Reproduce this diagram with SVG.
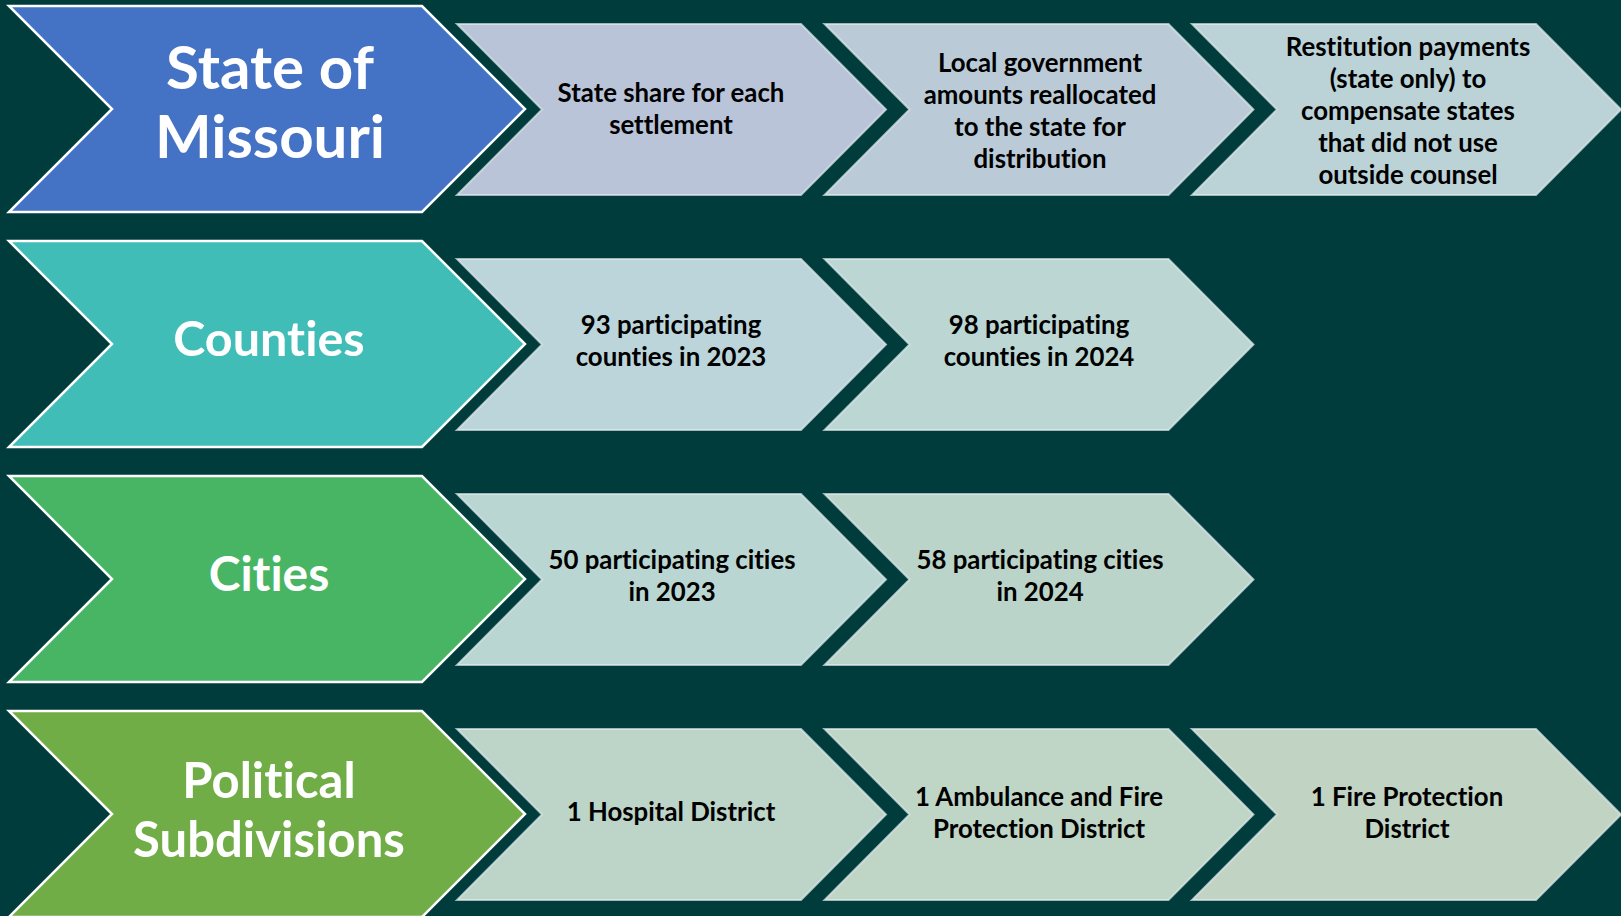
<svg xmlns="http://www.w3.org/2000/svg" width="1621" height="916" viewBox="0 0 1621 916">
<defs>
<style>
.big{stroke:#ffffff;stroke-width:2.5;stroke-linejoin:miter}
.sm{stroke:#e2ebee;stroke-opacity:0.7;stroke-width:2}
text{font-variant-ligatures:none;font-feature-settings:"liga" 0,"dlig" 0}
.tb{font-family:Lato,"Open Sans",sans-serif;font-weight:700;fill:#ffffff;text-anchor:middle}
.ts{font-family:Lato,"Open Sans",sans-serif;font-weight:700;font-size:25.8px;fill:#000000;text-anchor:middle}
</style>
<path id="bigc" d="M9,6 H422 L525,109 L422,212 H9 L112,109 Z"/>
<path id="smc" d="M457,24 H801 L886,109.5 L801,195 H457 L542,109.5 Z"/>
</defs>
<rect width="1621" height="916" fill="#003c3c"/>
<g id="connectors"></g>

<g id="row1">
<g id="state"><use href="#bigc" class="big" fill="#4472c4"/>
<text class="tb" font-size="60" x="270" y="89">State of</text>
<text class="tb" font-size="60" x="270" y="158">Missouri</text></g>
<g id="r1c1"><use href="#smc" class="sm" fill="#b9c4d8"/>
<text class="ts" x="671" y="102">State share for each</text>
<text class="ts" x="671" y="134">settlement</text></g>
<g id="r1c2"><use href="#smc" class="sm" fill="#bacbd7" transform="translate(367.5,0)"/>
<text class="ts" x="1040" y="72">Local government</text>
<text class="ts" x="1040" y="104">amounts reallocated</text>
<text class="ts" x="1040" y="136">to the state for</text>
<text class="ts" x="1040" y="168">distribution</text></g>
<g id="r1c3"><use href="#smc" class="sm" fill="#bbd2d7" transform="translate(735,0)"/>
<text class="ts" x="1408" y="56">Restitution payments</text>
<text class="ts" x="1408" y="88">(state only) to</text>
<text class="ts" x="1408" y="120">compensate states</text>
<text class="ts" x="1408" y="152">that did not use</text>
<text class="ts" x="1408" y="184">outside counsel</text></g>
</g>

<g id="row2">
<g id="counties"><use href="#bigc" class="big" fill="#41bdb8" transform="translate(0,235)"/>
<text class="tb" font-size="48.5" x="269" y="356">Counties</text></g>
<g id="r2c1"><use href="#smc" class="sm" fill="#bcd5da" transform="translate(0,235)"/>
<text class="ts" x="671" y="334">93 participating</text>
<text class="ts" x="671" y="366">counties in 2023</text></g>
<g id="r2c2"><use href="#smc" class="sm" fill="#bcd7d3" transform="translate(367.5,235)"/>
<text class="ts" x="1039" y="334">98 participating</text>
<text class="ts" x="1039" y="366">counties in 2024</text></g>
</g>

<g id="row3">
<g id="cities"><use href="#bigc" class="big" fill="#47b563" transform="translate(0,470)"/>
<text class="tb" font-size="48" x="269" y="591">Cities</text></g>
<g id="r3c1"><use href="#smc" class="sm" fill="#bad6d2" transform="translate(0,470)"/>
<text class="ts" x="672" y="569">50 participating cities</text>
<text class="ts" x="672" y="601">in 2023</text></g>
<g id="r3c2"><use href="#smc" class="sm" fill="#bbd4c9" transform="translate(367.5,470)"/>
<text class="ts" x="1040" y="569">58 participating cities</text>
<text class="ts" x="1040" y="601">in 2024</text></g>
</g>

<g id="row4">
<g id="political"><use href="#bigc" class="big" fill="#70ad47" transform="translate(0,705)"/>
<text class="tb" font-size="49" x="269" y="798">Political</text>
<text class="tb" font-size="49" x="269" y="857">Subdivisions</text></g>
<g id="r4c1"><use href="#smc" class="sm" fill="#bdd5c8" transform="translate(0,705)"/>
<text class="ts" x="671" y="821">1 Hospital District</text></g>
<g id="r4c2"><use href="#smc" class="sm" fill="#bfd5c5" transform="translate(367.5,705)"/>
<text class="ts" x="1039" y="806">1 Ambulance and Fire</text>
<text class="ts" x="1039" y="838">Protection District</text></g>
<g id="r4c3"><use href="#smc" class="sm" fill="#c1d3c3" transform="translate(735,705)"/>
<text class="ts" x="1407" y="806">1 Fire Protection</text>
<text class="ts" x="1407" y="838">District</text></g>
</g>
</svg>
